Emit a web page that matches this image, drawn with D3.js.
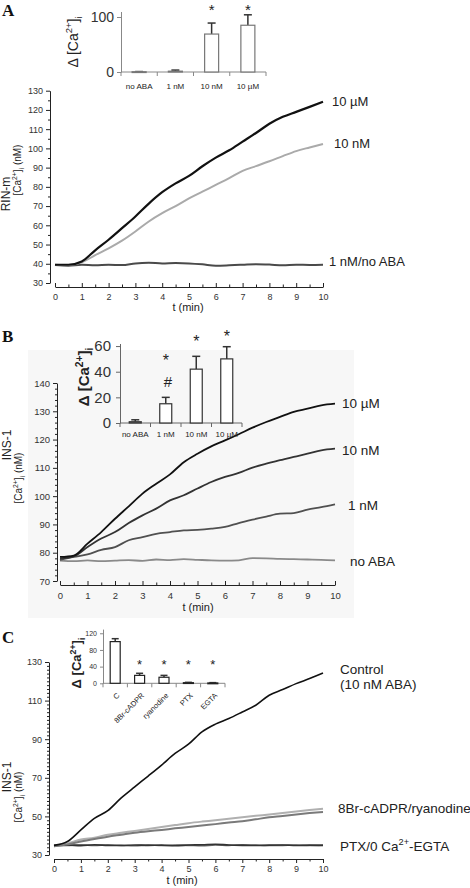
<!DOCTYPE html>
<html><head><meta charset="utf-8">
<script src="https://cdn.jsdelivr.net/npm/d3@7"></script>
<style>
body{margin:0;background:#fff}
svg{display:block}
text{font-family:Arial,"Liberation Sans",sans-serif;fill:#222}
</style>
</head><body>
<svg id="chart" width="470" height="888"></svg>
<script>
// ---------- DATA ----------
const timeMin = [0,0.5,1,1.5,2,2.5,3,3.5,4,4.5,5,5.5,6,6.5,7,7.5,8,8.5,9,9.5,10];
const xTickLabels = [0,1,2,3,4,5,6,7,8,9,10];

// Panel A (RIN-m)
const a10uM  = [39.5,39.5,41.2,47,52.5,58.5,64.6,71.3,77.2,81.8,85.7,90.7,95.2,99,103.5,108,112.8,116.4,119,121.6,124.3];
const a10nM  = [39.5,39.3,40.7,44.5,48,52,56.8,62,66.3,70,74,77.5,81,84.5,88.3,90.8,93.3,96,98.6,100.5,102.3];
const aFlat  = [39.3,39,39.5,39.2,39.5,39.3,40.2,40.5,40.2,40.4,40.2,39.7,39,39.2,39.5,39.8,39.6,39.2,39.5,39.4,39.5];
const aYTicks = [30,40,50,60,70,80,90,100,110,120,130];

// Panel B (INS-1)
const b10uM  = [78.5,79,83.2,87.3,92,96.4,100.9,104.4,107.7,112,115,117.6,119.7,121.9,124.2,126.2,128,129.8,130.9,132.1,132.7];
const b10nM  = [78,78.7,82,85,87.3,90.5,93.2,95.6,98.5,100.3,102.7,105,106.8,108.2,110.1,111.5,112.7,113.9,115,116.2,116.8];
const b1nM   = [77.5,78.5,79.4,81,82,84.4,85.5,86.7,87.3,87.9,88.1,88.5,89.1,90.5,91.7,92.8,93.8,94,95.2,96.1,97.1];
const bNoABA = [77.2,77,77.3,77,77.2,77.4,77.1,77.6,77.4,77.7,77.5,77.3,77.2,77.3,78.1,78,77.8,77.7,77.6,77.5,77.3];
const bYTicks = [70,80,90,100,110,120,130,140];

// Panel C (INS-1, inhibitors)
const cControl = [35,37,43,49,53,59.6,65.3,70.9,76.6,82.6,87.4,93.8,97.8,100.7,104.1,107.6,112.8,115.7,118.8,121.4,124.3];
const c8Br     = [34.5,36,38,39,40.5,41.5,42.5,43.5,44.5,45.5,46.5,47.3,48,48.8,49.5,50.3,51,51.8,52.5,53.3,54];
const cRyan    = [34.5,35.5,37,38.3,39.5,40.5,41.5,42.3,43,43.8,44.5,45.3,46,46.8,47.5,48.5,49.5,50.2,51,51.7,52.3];
const cPTX     = [35,35.2,34.8,35.3,35,34.9,35.2,35,35.1,34.8,35.2,35.3,35.6,35.2,35,34.9,35.1,35.2,34.9,35.1,35];
const cEGTA    = [34.8,35,35.3,34.9,35.2,35,34.8,35.2,34.9,35.1,35,34.8,35.2,35,35.3,35.1,34.9,35,35.2,34.9,35.1];
const cYTicks = [30,50,70,90,110,130];

// Insets
const insetACats = ["no ABA","1 nM","10 nM","10 \u00b5M"];
const insetAVals = [0.5,1.5,69,85];
const insetASd   = [0.3,2,20,19];
const insetAMarks = ["","","*","*"];
const insetATicks = [0,100];

const insetBCats = ["no ABA","1 nM","10 nM","10 \u00b5M"];
const insetBVals = [1,15,42,50];
const insetBSd   = [1.5,5,10,9.5];
const insetBMarks = ["","*","*","*"];
const insetBTicks = [0,20,40,60];

const insetCCats = ["C","8Br-cADPR","ryanodine","PTX","EGTA"];
const insetCVals = [100,19,14.5,1.5,0.8];
const insetCSd   = [7,5,4.5,0.8,0.8];
const insetCMarks = ["","*","*","*","*"];
const insetCTicks = [0,40,80,120];

// ---------- HELPERS ----------
const svg = d3.select("#chart");

function rich(g, x, y, size, segs, opts={}) {
  const t = g.append("text").attr("font-size", size);
  if (opts.rotate) {
    t.attr("transform", `translate(${x},${y}) rotate(-90)`);
  } else {
    t.attr("x", x).attr("y", y);
  }
  if (opts.anchor) t.attr("text-anchor", opts.anchor);
  if (opts.weight) t.attr("font-weight", opts.weight);
  let shift = 0;
  segs.forEach(([s, type]) => {
    const ts = t.append("tspan").text(s);
    const target = type === "sup" ? -size*0.42 : type === "sub" ? size*0.28 : 0;
    ts.attr("dy", target - shift);
    shift = target;
    if (type) ts.attr("font-size", size*0.68);
  });
  return t;
}
const caSegs = [["\u0394 [Ca",0],["2+","sup"],["]",0],["i","sub"]];
const caNmSegs = [["[Ca",0],["2+","sup"],["]",0],["i","sub"],[" (nM)",0]];

function mainPanel(cfg) {
  const g = svg.append("g");
  const x = d3.scaleLinear([0,10],[cfg.x0,cfg.x1]);
  const y = d3.scaleLinear([cfg.yTicks[0], cfg.yTicks[cfg.yTicks.length-1]],[cfg.yBot,cfg.yTop]);
  const ya = g.append("g").attr("transform",`translate(${cfg.yAxisX},0)`)
    .call(d3.axisLeft(y).tickValues(cfg.yTicks).tickSize(4).tickSizeOuter(0).tickPadding(3));
  g.append("g").attr("transform",`translate(${cfg.yAxisX},0)`)
    .call(d3.axisLeft(y).tickValues(cfg.yMinor).tickSize(2).tickFormat(""))
    .call(s=>s.select(".domain").remove());
  const xa = g.append("g").attr("transform",`translate(0,${cfg.axisY})`)
    .call(d3.axisBottom(x).tickValues(xTickLabels).tickSize(cfg.xTickDir*4).tickSizeOuter(0).tickPadding(cfg.xPad));
  g.append("g").attr("transform",`translate(0,${cfg.axisY})`)
    .call(d3.axisBottom(x).tickValues(d3.range(0.5,10,1)).tickSize(cfg.xTickDir*2.5).tickFormat(""))
    .call(s=>s.select(".domain").remove());
  [ya, xa].forEach(a => {
    a.selectAll("text").attr("font-size", cfg.tickFs).style("fill","#333");
    a.selectAll("path,line").attr("stroke","#222");
  });
  g.selectAll("line").attr("stroke","#222");
  const line = d3.line().x((d,i)=>x(timeMin[i])).y(d=>y(d)).curve(d3.curveMonotoneX);
  cfg.series.forEach(s => {
    g.append("path").datum(s.vals).attr("d", line)
      .attr("fill","none").attr("stroke", s.color).attr("stroke-width", s.w)
      .attr("stroke-linejoin","round");
  });
  g.append("text").attr("x", cfg.xTitleX).attr("y", cfg.xTitleY).attr("text-anchor","middle")
    .attr("font-size", 11).text("t (min)");
  return {x, y, g};
}

function inset(cfg) {
  const g = svg.append("g");
  const y = d3.scaleLinear([0, cfg.yMax],[cfg.y0, cfg.yTopPx]);
  const x = d3.scaleBand(cfg.cats,[cfg.xStart, cfg.xEnd]);
  const ya = g.append("g").attr("transform",`translate(${cfg.xStart},0)`)
    .call(d3.axisLeft(y).tickValues(cfg.ticks).tickSize(cfg.yTickSize).tickSizeOuter(0).tickPadding(cfg.yPad));
  ya.selectAll("text").attr("font-size", cfg.yFs).style("fill","#333");
  ya.selectAll("path,line").attr("stroke", cfg.axisColor);
  g.append("line").attr("x1", cfg.xStart).attr("x2", cfg.xEnd).attr("y1", cfg.y0).attr("y2", cfg.y0)
    .attr("stroke", cfg.axisColor).attr("stroke-width",1);
  const bounds = cfg.cats.map(c=>x(c)).concat([cfg.xEnd]);
  g.selectAll(".bt").data(bounds).join("line")
    .attr("x1", d=>d).attr("x2", d=>d).attr("y1", cfg.y0).attr("y2", cfg.y0+4)
    .attr("stroke", cfg.axisColor);
  const bw = cfg.barW;
  const cx = c => x(c) + x.bandwidth()/2;
  g.selectAll(".eb").data(cfg.cats).join("line")
    .attr("x1", c=>cx(c)).attr("x2", c=>cx(c))
    .attr("y1", (c,i)=>y(cfg.vals[i])).attr("y2", (c,i)=>y(cfg.vals[i]+cfg.sd[i]))
    .attr("stroke","#333").attr("stroke-width",1.5);
  g.selectAll(".ec").data(cfg.cats).join("line")
    .attr("x1", c=>cx(c)-cfg.capW/2).attr("x2", c=>cx(c)+cfg.capW/2)
    .attr("y1", (c,i)=>y(cfg.vals[i]+cfg.sd[i])).attr("y2", (c,i)=>y(cfg.vals[i]+cfg.sd[i]))
    .attr("stroke","#333").attr("stroke-width",1.5);
  g.selectAll(".bar").data(cfg.cats).join("rect")
    .attr("x", c=>cx(c)-bw/2).attr("width", bw)
    .attr("y", (c,i)=>y(cfg.vals[i])).attr("height", (c,i)=>Math.max(0.8, cfg.y0 - y(cfg.vals[i])))
    .attr("fill","#fff").attr("stroke", cfg.barStroke).attr("stroke-width",1.2);
  g.selectAll(".mk").data(cfg.cats).join("text")
    .attr("x", c=>cx(c)).attr("y", (c,i)=>cfg.markY[i])
    .attr("text-anchor","middle").attr("font-size", cfg.markFs).text((c,i)=>cfg.marks[i]);
  if (cfg.rotateLabels) {
    g.selectAll(".cl").data(cfg.cats).join("text")
      .attr("transform", c=>`translate(${cx(c)+5},${cfg.labelY}) rotate(-45)`)
      .attr("text-anchor","end").attr("font-size", cfg.labelFs).text(c=>c);
  } else {
    g.selectAll(".cl").data(cfg.cats).join("text")
      .attr("x", c=>cx(c)).attr("y", cfg.labelY)
      .attr("text-anchor","middle").attr("font-size", cfg.labelFs).text(c=>c);
  }
  rich(g, cfg.titleX, cfg.titleY, cfg.titleFs, caSegs, {rotate:true, anchor:"middle", weight:cfg.titleW});
  return {x, y, g};
}

function panelLetter(t, x, y) {
  svg.append("text").attr("x",x).attr("y",y).attr("font-size",17).attr("font-weight","bold")
    .style("font-family","'Liberation Serif','DejaVu Serif',serif").style("fill","#111").text(t);
}

// ---------- PANEL B background ----------
svg.append("rect").attr("x",28).attr("y",350).attr("width",326).attr("height",268).attr("fill","#f7f7f7");

// ---------- PANEL A ----------
panelLetter("A", 2, 16);
const A = mainPanel({
  x0:55, x1:323, axisY:287, yAxisX:50, yTicks:aYTicks, yBot:283, yTop:90.7,
  yMinor:d3.range(35,130,10), xTickDir:-1, xPad:7, tickFs:9,
  xTitleX:188, xTitleY:311,
  series:[
    {vals:aFlat, color:"#4a4a4a", w:2},
    {vals:a10nM, color:"#aaaaaa", w:2},
    {vals:a10uM, color:"#111111", w:2.2}
  ]
});
A.g.append("text").attr("x",332).attr("y",106).attr("font-size",13).text("10 \u00b5M");
A.g.append("text").attr("x",334).attr("y",148).attr("font-size",13).text("10 nM");
A.g.append("text").attr("x",329).attr("y",266).attr("font-size",13).text("1 nM/no ABA");
A.g.append("text").attr("transform","translate(10,194) rotate(-90)").attr("text-anchor","middle").attr("font-size",12).text("RIN-m");
rich(A.g, 21, 170, 10, caNmSegs, {rotate:true, anchor:"middle"});

inset({
  cats:insetACats, vals:insetAVals, sd:insetASd, marks:insetAMarks, ticks:insetATicks,
  yMax:110, y0:72, yTopPx:11.5, xStart:121, xEnd:266, barW:14, capW:8,
  yTickSize:4, yPad:3, yFs:14, axisColor:"#888", barStroke:"#777",
  markY:[15,15,15,15], markFs:15, labelY:89, labelFs:8,
  titleX:78, titleY:42, titleFs:14, titleW:"normal"
});

// ---------- PANEL B ----------
panelLetter("B", 2, 342);
const B = mainPanel({
  x0:60, x1:335, axisY:585, yAxisX:57, yTicks:bYTicks, yBot:581, yTop:383,
  yMinor:d3.range(72,140,2).filter(v=>v%10!==0), xTickDir:-1, xPad:7, tickFs:9.5,
  xTitleX:198, xTitleY:611,
  series:[
    {vals:bNoABA, color:"#8a8a8a", w:1.8},
    {vals:b1nM, color:"#505050", w:1.8},
    {vals:b10nM, color:"#333333", w:1.8},
    {vals:b10uM, color:"#111111", w:1.8}
  ]
});
B.g.append("text").attr("x",342).attr("y",408).attr("font-size",13.5).text("10 \u00b5M");
B.g.append("text").attr("x",342).attr("y",455).attr("font-size",13.5).text("10 nM");
B.g.append("text").attr("x",348).attr("y",510).attr("font-size",13.5).text("1 nM");
B.g.append("text").attr("x",350).attr("y",566).attr("font-size",13.5).text("no ABA");
B.g.append("text").attr("transform","translate(11,445) rotate(-90)").attr("text-anchor","middle").attr("font-size",12).text("INS-1");
rich(B.g, 22, 478, 10, caNmSegs, {rotate:true, anchor:"middle"});

inset({
  cats:insetBCats, vals:insetBVals, sd:insetBSd, marks:insetBMarks, ticks:insetBTicks,
  yMax:62, y0:423, yTopPx:343.5, xStart:120, xEnd:242, barW:12, capW:8,
  yTickSize:4, yPad:5, yFs:15, axisColor:"#666", barStroke:"#333",
  markY:[0,366,347,342], markFs:16, labelY:437, labelFs:8,
  titleX:89, titleY:377, titleFs:15, titleW:"bold"
});
svg.append("text").attr("x",168).attr("y",387).attr("text-anchor","middle").attr("font-size",15).text("#");

// ---------- PANEL C ----------
panelLetter("C", 2, 643);
const C = mainPanel({
  x0:54, x1:323, axisY:859, yAxisX:49, yTicks:cYTicks, yBot:855, yTop:662,
  yMinor:d3.range(32,130,2).filter(v=>(v-30)%20!==0), xTickDir:1, xPad:3, tickFs:9,
  xTitleX:182, xTitleY:884,
  series:[
    {vals:cEGTA, color:"#666666", w:1.6},
    {vals:cPTX, color:"#333333", w:1.6},
    {vals:c8Br, color:"#b0b0b0", w:2},
    {vals:cRyan, color:"#7a7a7a", w:2},
    {vals:cControl, color:"#111111", w:1.6}
  ]
});
C.g.append("text").attr("x",340).attr("y",674).attr("font-size",13.5).text("Control");
C.g.append("text").attr("x",340).attr("y",689).attr("font-size",13.5).text("(10 nM ABA)");
C.g.append("text").attr("x",338).attr("y",813).attr("font-size",13.5).text("8Br-cADPR/ryanodine");
rich(C.g, 340, 851, 13.5, [["PTX/0 Ca",0],["2+","sup"],["-EGTA",0]]);
C.g.append("text").attr("transform","translate(11,777) rotate(-90)").attr("text-anchor","middle").attr("font-size",12).text("INS-1");
rich(C.g, 22, 797, 10, caNmSegs, {rotate:true, anchor:"middle"});

inset({
  cats:insetCCats, vals:insetCVals, sd:insetCSd, marks:insetCMarks, ticks:insetCTicks,
  yMax:130, y0:683.3, yTopPx:629.1, xStart:103, xEnd:225, barW:10, capW:7,
  yTickSize:3, yPad:3, yFs:7, axisColor:"#888", barStroke:"#222",
  markY:[0,669,669,669,669], markFs:13, labelY:696, labelFs:7.5,
  titleX:81, titleY:663, titleFs:13, titleW:"bold",
  rotateLabels:true
});
</script>
</body></html>
